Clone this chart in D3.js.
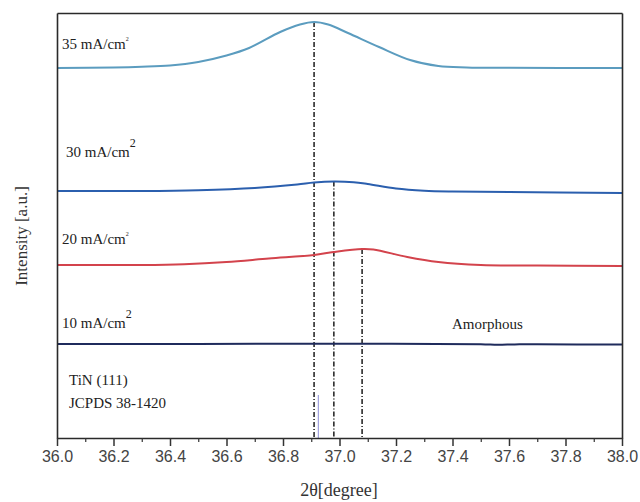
<!DOCTYPE html>
<html>
<head>
<meta charset="utf-8">
<script src="https://cdn.jsdelivr.net/npm/d3@7"></script>
<style>
  html, body { margin: 0; padding: 0; background: #fff; }
  svg { display: block; }
</style>
</head>
<body>
<svg id="chart" width="640" height="502"></svg>
<script>
// 2θ sample positions (degree) and stacked intensities (a.u., offset per sample)
const theta35 = [36.0, 36.2, 36.3, 36.4, 36.5, 36.6, 36.68, 36.79, 36.86, 36.91, 36.96, 37.03, 37.14, 37.25, 37.35, 37.45, 37.6, 38.0];
const int35   = [370, 370.5, 371.2, 372.5, 376, 382.5, 390, 406, 413.5, 416, 413.5, 405, 391, 378, 372, 370.6, 370.2, 370];

const theta30 = [36.0, 36.3, 36.5, 36.7, 36.85, 36.91, 36.98, 37.05, 37.1, 37.2, 37.3, 37.4, 37.6, 38.0];
const int30   = [247, 247, 247.8, 250, 253.5, 255.5, 256.5, 255.8, 254, 249.5, 247.3, 246.5, 246, 245];

const theta20 = [36.0, 36.3, 36.45, 36.6, 36.75, 36.91, 36.98, 37.08, 37.12, 37.24, 37.35, 37.5, 37.7, 38.0];
const int20   = [173, 173, 173.8, 176, 179.5, 183, 186, 189, 188.5, 181, 176, 173, 172.5, 172];

const theta10 = [36.0, 36.5, 37.0, 37.5, 37.56, 37.62, 37.7, 38.0];
const int10   = [94, 94, 94.3, 93.8, 93.2, 93.6, 93.7, 93.4];

const seriesNames  = ["35 mA/cm", "30 mA/cm", "20 mA/cm", "10 mA/cm"];
const seriesColors = ["#5b9cbf", "#2b5fae", "#d3434c", "#1f2b5c"];

// peak centres marked with dash-dot guides: [2θ, series index]
const peakTheta  = [36.91, 36.98, 37.08];
const peakSeries = [0, 1, 2];

// TiN (111) reference line, JCPDS 38-1420
const refTheta = 36.925;
const refIntensity = 43;

const xTicks = d3.range(36.0, 38.001, 0.2);
const xMinor = d3.range(36.1, 38.0, 0.2);

const svg = d3.select("#chart");
const m = { left: 57, right: 622, top: 13, bottom: 438 };

const x = d3.scaleLinear().domain([36, 38]).range([m.left, m.right]);
const y = d3.scaleLinear().domain([0, 425]).range([m.bottom, m.top]);

const series = [
  { t: theta35, v: int35 },
  { t: theta30, v: int30 },
  { t: theta20, v: int20 },
  { t: theta10, v: int10 }
];

const line = d3.line()
  .x(d => x(d[0]))
  .y(d => y(d[1]))
  .curve(d3.curveCatmullRom.alpha(0.5));

// dash-dot guides from each peak down to the axis
peakTheta.forEach((p, i) => {
  const s = series[peakSeries[i]];
  const k = s.t.indexOf(p);
  svg.append("line")
    .attr("x1", x(p)).attr("x2", x(p))
    .attr("y1", y(s.v[k])).attr("y2", y(0))
    .attr("stroke", "#2a2a2a")
    .attr("stroke-width", 1.6)
    .attr("stroke-dasharray", "5,2,1,2");
});

// reference stick
svg.append("line")
  .attr("x1", x(refTheta)).attr("x2", x(refTheta))
  .attr("y1", y(refIntensity)).attr("y2", y(0))
  .attr("stroke", "#8d8fd6")
  .attr("stroke-width", 1);

// diffraction patterns
series.forEach((s, i) => {
  svg.append("path")
    .datum(s.t.map((t, j) => [t, s.v[j]]))
    .attr("d", line)
    .attr("fill", "none")
    .attr("stroke", seriesColors[i])
    .attr("stroke-width", 2);
});

// frame: four tickless axes around the plot area
const gTop = svg.append("g")
  .attr("transform", `translate(0,${m.top})`)
  .call(d3.axisTop(x).tickValues([]).tickSizeOuter(0));
const gRight = svg.append("g")
  .attr("transform", `translate(${m.right},0)`)
  .call(d3.axisRight(y).tickValues([]).tickSizeOuter(0));
const gLeft = svg.append("g")
  .attr("transform", `translate(${m.left},0)`)
  .call(d3.axisLeft(y).tickValues([]).tickSizeOuter(0));
const gBottom = svg.append("g")
  .attr("transform", `translate(0,${m.bottom})`)
  .call(d3.axisBottom(x).tickValues([]).tickSizeOuter(0));
[gTop, gRight, gLeft, gBottom].forEach(g =>
  g.select(".domain").attr("stroke", "#2a2a2a").attr("stroke-width", 1.6));

// bottom axis ticks and labels
const xAxis = d3.axisBottom(x)
  .tickValues(xTicks)
  .tickFormat(d3.format(".1f"))
  .tickSize(8)
  .tickPadding(5);
const gx = svg.append("g")
  .attr("transform", `translate(0,${m.bottom})`)
  .call(xAxis);
gx.select(".domain").remove();
gx.selectAll(".tick line").attr("stroke", "#333").attr("stroke-width", 1.5);
gx.selectAll(".tick text")
  .attr("font-family", "'Liberation Sans', Arial, sans-serif")
  .attr("font-size", 16)
  .attr("fill", "#444");

const gm = svg.append("g")
  .attr("transform", `translate(0,${m.bottom})`)
  .call(d3.axisBottom(x).tickValues(xMinor).tickFormat("").tickSize(4));
gm.select(".domain").remove();
gm.selectAll(".tick line").attr("stroke", "#333").attr("stroke-width", 1.2);

const serif = "'Liberation Serif', 'Times New Roman', serif";

// axis titles
svg.append("text")
  .attr("x", 339).attr("y", 496)
  .attr("text-anchor", "middle")
  .attr("font-family", serif)
  .attr("font-size", 18)
  .attr("fill", "#333")
  .text("2θ[degree]");

svg.append("text")
  .attr("transform", "translate(27,236) rotate(-90)")
  .attr("text-anchor", "middle")
  .attr("font-family", serif)
  .attr("font-size", 17)
  .attr("fill", "#333")
  .text("Intensity [a.u.]");

// sample labels
const labelPos = [[62, 49, 6, -8], [66, 157, 12, -10], [62, 244, 6, -8], [62, 328, 12, -10]];
seriesNames.forEach((n, i) => {
  const [lx, ly, supSize, supDy] = labelPos[i];
  const t = svg.append("text")
    .attr("x", lx).attr("y", ly)
    .attr("font-family", serif)
    .attr("font-size", 15)
    .attr("fill", "#222");
  t.append("tspan").text(n);
  t.append("tspan")
    .attr("font-size", supSize)
    .attr("dy", supDy)
    .text("2");
});

svg.append("text")
  .attr("x", 452).attr("y", 329)
  .attr("font-family", serif)
  .attr("font-size", 15)
  .attr("fill", "#222")
  .text("Amorphous");

svg.append("text")
  .attr("x", 69).attr("y", 385)
  .attr("font-family", serif)
  .attr("font-size", 15)
  .attr("fill", "#222")
  .text("TiN (111)");

svg.append("text")
  .attr("x", 69).attr("y", 408)
  .attr("font-family", serif)
  .attr("font-size", 15)
  .attr("fill", "#222")
  .text("JCPDS 38-1420");
</script>
</body>
</html>
